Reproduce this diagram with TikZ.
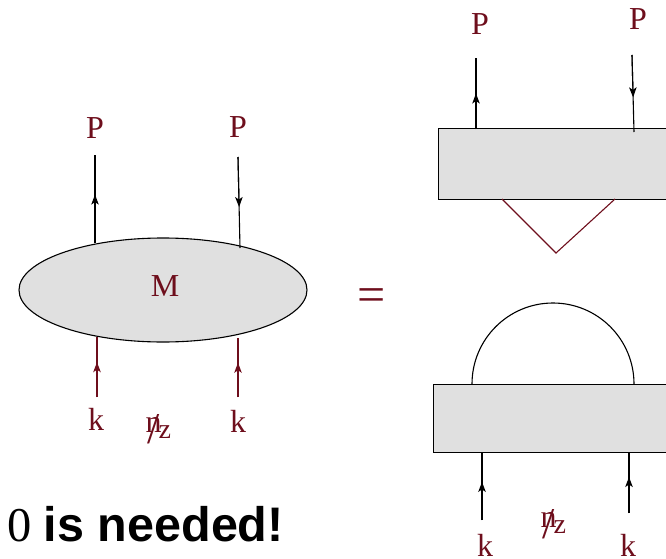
\documentclass[tikz,border=0pt]{standalone}
\usepackage{fontspec}
\setmainfont{Liberation Serif}
\newfontfamily\sansbf{Liberation Sans}
\usepackage{tikz}
\usetikzlibrary{arrows.meta,shapes.geometric,calc}
\definecolor{wine}{RGB}{110,14,28}
\definecolor{blobgray}{RGB}{224,224,224}

\newcommand{\slashn}{\makebox[0pt][l]{\kern2pt\raisebox{-11pt}{\fontsize{44}{44}\selectfont/}}n\kern-3pt\raisebox{-6pt}{\fontsize{28}{28}\selectfont z}}

\begin{document}
\begin{tikzpicture}[x=1pt, y=-1pt, line width=1.1pt,
    blob/.style={draw, fill=blobgray, inner sep=0pt},
    lbl/.style={text=wine, font=\fontsize{32}{34}\selectfont, inner sep=0pt},
    tip/.style={-{Stealth[length=10pt,width=7.5pt,inset=2.5pt]}}]
    \path[use as bounding box, clip] (0,0) rectangle (666,559);
    % left blob
    \node[blob, ellipse, minimum width=288pt, minimum height=104pt] (M) at (163,290) {};
    \node[lbl] (Mlab) at (165,286) {M};
    \node[lbl] (P1) at (95,128) {P};
    \node[lbl] (P2) at (238,127) {P};
    \node[lbl] (k1) at (96,419) {k};
    \node[lbl] (k2) at (238,421) {k};
    \node[lbl, anchor=base west] (n1) at (145,432) {\slashn};
    \coordinate (a1) at (95,155);   \coordinate (e1) at (95,243);
    \coordinate (a2) at (238,157);  \coordinate (e2) at (240,248);
    \coordinate (b1) at (97,397);   \coordinate (f1) at (97,337);
    \coordinate (b2) at (238,397);  \coordinate (f2) at (238,338);
    \draw (e1) -- (a1);  \draw[tip] (e1) -- ($(e1)!0.55!(a1)$);
    \draw (a2) -- (e2);  \draw[tip] (a2) -- ($(a2)!0.55!(e2)$);
    \draw[wine] (b1) -- (f1);  \draw[wine, tip] (b1) -- ($(b1)!0.58!(f1)$);
    \draw[wine] (b2) -- (f2);  \draw[wine, tip] (b2) -- ($(b2)!0.58!(f2)$);
    % equals
    \node[lbl, font=\fontsize{50}{52}\selectfont] (eq) at (372,300) {=};
    % right top box
    \node[blob, anchor=north west, minimum width=300pt, minimum height=71pt] (top) at (438,128) {};
    \node[lbl] (P3) at (480,24) {P};
    \node[lbl] (P4) at (638,19) {P};
    \coordinate (a3) at (476,58);   \coordinate (e3) at (476,129);
    \coordinate (a4) at (632,55);   \coordinate (e4) at (634,132);
    \draw (e3) -- (a3);  \draw[tip] (e3) -- ($(e3)!0.5!(a3)$);
    \draw (a4) -- (e4);  \draw[tip] (a4) -- ($(a4)!0.55!(e4)$);
    \coordinate (v1) at (502,199);  \coordinate (v2) at (556,253);  \coordinate (v3) at (615,199);
    \draw[wine] (v1) -- (v2) -- (v3);
    % right bottom box
    \node[blob, anchor=north west, minimum width=300pt, minimum height=68pt] (bot) at (433,384) {};
    \coordinate (c1) at (472,384);
    \draw (c1) arc[start angle=180, end angle=360, x radius=81, y radius=81];
    \node[lbl] (k3) at (485,545) {k};
    \node[lbl] (k4) at (628,545) {k};
    \node[lbl, anchor=base west] (n2) at (540,527) {\slashn};
    \coordinate (b3) at (482,520);  \coordinate (f3) at (482,452);
    \coordinate (b4) at (629,513);  \coordinate (f4) at (629,452);
    \draw (b3) -- (f3);  \draw[tip] (b3) -- ($(b3)!0.56!(f3)$);
    \draw (b4) -- (f4);  \draw[tip] (b4) -- ($(b4)!0.59!(f4)$);
    % remark
    \node[anchor=base west, inner sep=0pt, font=\fontsize{48.5}{50}\selectfont] (note) at (7,541) {0 {\sansbf\bfseries is needed!}};
\end{tikzpicture}
\end{document}
